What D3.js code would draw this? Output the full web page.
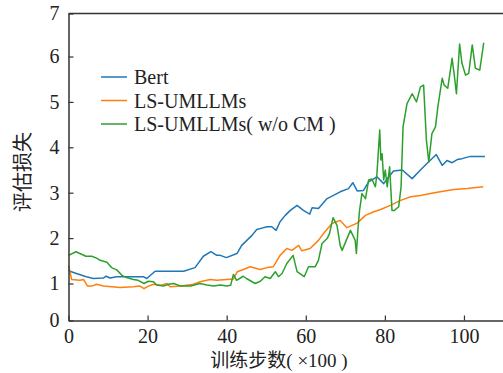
<!DOCTYPE html>
<html>
<head>
<meta charset="utf-8">
<script src="https://cdn.jsdelivr.net/npm/d3@7"></script>
<style>
  body { margin: 0; background: #fff; }
  svg text { font-family: "Liberation Serif", "Times New Roman", "DejaVu Serif", "Noto Sans CJK SC", serif; fill: #222; }
</style>
</head>
<body>
<div id="chart"></div>
<script>
// values
var bertSteps = [0, 2, 4.5, 6.3, 8.8, 9.5, 10.5, 12.2, 15, 18.9, 19.8, 21.9, 25, 29.1, 32, 34.1, 36, 37.5, 38.4, 39.9, 42.6, 43.8, 45.1, 46.4, 47.6, 48.9, 50.2, 51.4, 52.5, 53.5, 54.8, 56.1, 57.8, 59.4, 61, 61.6, 63.2, 65.4, 67, 68.7, 70.8, 71.9, 73, 74.6, 75.9, 78, 79.7, 81, 82.2, 84.4, 86.9, 89, 91.1, 93, 94.5, 95.7, 97, 98.3, 99.5, 101.6, 103.3, 105.3];
var bertLoss = [1.28, 1.22, 1.15, 1.11, 1.12, 1.16, 1.12, 1.15, 1.15, 1.15, 1.11, 1.27, 1.27, 1.27, 1.35, 1.6, 1.70, 1.62, 1.62, 1.57, 1.66, 1.84, 1.95, 2.06, 2.19, 2.22, 2.25, 2.25, 2.17, 2.36, 2.5, 2.61, 2.72, 2.61, 2.53, 2.67, 2.65, 2.87, 2.94, 3.02, 3.09, 3.22, 3.04, 3.05, 3.24, 3.35, 3.2, 3.35, 3.48, 3.5, 3.31, 3.5, 3.68, 3.84, 3.6, 3.71, 3.66, 3.73, 3.75, 3.8, 3.8, 3.8];

var lsSteps = [0, 0.8, 2.9, 3.8, 4.8, 5.9, 7.1, 8.8, 13, 16.4, 18.1, 19.1, 20.2, 21.5, 23.2, 24.9, 25.7, 28.4, 31.6, 33.3, 35.8, 37.5, 40, 41.7, 42.7, 44.2, 45.9, 48.5, 50.2, 51.8, 53.5, 55.2, 56.5, 58.2, 59, 61.1, 63.2, 64.5, 66.6, 68.7, 70.4, 71.7, 73, 75.1, 77.2, 78.9, 81.4, 84, 86.5, 89, 91.5, 94, 97.4, 100.8, 104.9];
var lsLoss = [1.4, 1.09, 1.07, 1.09, 0.93, 0.93, 0.98, 0.93, 0.89, 0.91, 0.93, 0.86, 0.93, 0.98, 0.95, 1.0, 0.91, 0.93, 0.98, 1.04, 1.09, 1.07, 1.09, 1.1, 1.26, 1.31, 1.37, 1.31, 1.35, 1.37, 1.62, 1.77, 1.73, 1.84, 1.72, 1.77, 1.95, 2.1, 2.32, 2.39, 2.23, 2.28, 2.33, 2.5, 2.58, 2.63, 2.72, 2.83, 2.91, 2.94, 2.98, 3.02, 3.07, 3.09, 3.13];

var noCmSteps = [0, 1.9, 4.4, 5.9, 7.1, 8, 9.7, 10.9, 12.2, 13.5, 14.7, 16.4, 17.6, 19.1, 20.2, 21.5, 22.3, 24, 25.3, 26.6, 28.4, 30.9, 32.5, 33.3, 35, 36.7, 38.4, 40, 41, 41.7, 42.5, 44.2, 45, 47.2, 48.5, 49.7, 51, 52.3, 53.1, 54, 55.2, 56.8, 57.8, 59.6, 60.7, 62.4, 63.2, 64.1, 65.4, 66, 66.9, 67.9, 68.7, 69.2, 70, 71.3, 72.5, 72.8, 73.2, 73.6, 74.2, 75.1, 75.9, 76.7, 77.6, 78, 78.7, 79, 79.3, 79.7, 80.1, 80.6, 81.2, 81.8, 82.4, 83.5, 84.1, 84.6, 85.6, 86.9, 88, 89, 89.8, 90.5, 91.1, 91.9, 92.8, 93.4, 94.5, 95, 95.9, 97, 97.5, 98.1, 98.9, 99.5, 100.4, 101.2, 102.1, 102.9, 104, 105];
var noCmLoss = [1.62, 1.70, 1.6, 1.6, 1.56, 1.51, 1.47, 1.35, 1.3, 1.18, 1.13, 1.09, 1.07, 1.0, 1.05, 1.04, 0.96, 0.93, 0.98, 1.0, 0.93, 0.93, 0.98, 1.0, 0.96, 0.93, 0.96, 0.93, 0.95, 1.2, 1.07, 1.16, 1.11, 1.0, 1.05, 1.15, 1.11, 1.26, 1.15, 1.22, 1.44, 1.62, 1.26, 1.15, 1.37, 1.37, 1.51, 1.88, 1.99, 2.1, 2.45, 2.28, 1.84, 1.73, 1.9, 2.17, 1.95, 1.66, 2.2, 2.61, 2.98, 2.87, 3.28, 3.3, 3.13, 3.42, 4.38, 3.72, 3.86, 3.28, 3.5, 3.13, 3.57, 2.61, 2.61, 2.69, 3.13, 4.45, 4.96, 5.18, 5.0, 5.33, 5.37, 4.16, 3.68, 4.30, 4.45, 4.89, 5.52, 5.37, 5.3, 5.96, 5.63, 5.18, 6.29, 5.85, 5.59, 5.63, 6.27, 5.74, 5.7, 6.32];

var seriesNames = ["Bert", "LS-UMLLMs", "LS-UMLLMs( w/o CM )"];
var seriesColors = ["#1f77b4", "#ff7f0e", "#2ca02c"];
var xTicks = [0, 20, 40, 60, 80, 100];
var yTicks = [0, 1, 2, 3, 4, 5, 6, 7];

var W = 503, H = 373;
var plotLeft = 68.5, plotTop = 13.5, plotBottom = 320.5, plotRight = 503.5;
var serif = "'Liberation Serif', 'Times New Roman', 'DejaVu Serif', 'Noto Sans CJK SC', serif";

var svg = d3.select("#chart").append("svg")
    .attr("width", W)
    .attr("height", H);

var x = d3.scaleLinear().domain([0, 110]).range([plotLeft, plotRight]);
// the printed axis is slightly uneven below 1, so use a piecewise scale
var y = d3.scaleLinear().domain([0, 1, 6, 7]).range([plotBottom, 283.5, 56.5, plotTop]);

var series = [
    {steps: bertSteps, loss: bertLoss},
    {steps: lsSteps, loss: lsLoss},
    {steps: noCmSteps, loss: noCmLoss}
];

var line = d3.line()
    .x(function(d){ return x(d[0]); })
    .y(function(d){ return y(d[1]); });

series.forEach(function(s, i){
    svg.append("path")
        .datum(d3.zip(s.steps, s.loss))
        .attr("d", line)
        .attr("fill", "none")
        .attr("stroke", seriesColors[i])
        .attr("stroke-width", 1.5)
        .attr("stroke-linejoin", "round");
});

// axes, ticks point inward
var xAxis = svg.append("g")
    .attr("transform", "translate(0," + plotBottom + ")")
    .call(d3.axisBottom(x).tickValues(xTicks).tickFormat(d3.format("d"))
        .tickSizeInner(-5).tickSizeOuter(0).tickPadding(8));
var yAxis = svg.append("g")
    .attr("transform", "translate(" + plotLeft + ",0)")
    .call(d3.axisLeft(y).tickValues(yTicks).tickFormat(d3.format("d"))
        .tickSizeInner(-5).tickSizeOuter(0).tickPadding(9));

[xAxis, yAxis].forEach(function(g){
    g.attr("font-family", null).attr("font-size", null);
    g.select(".domain").attr("stroke", "#333").attr("stroke-width", 1.5);
    g.selectAll(".tick line").attr("stroke", "#333").attr("stroke-width", 1.2);
    g.selectAll(".tick text")
        .attr("font-family", serif)
        .attr("font-size", 20)
        .attr("fill", "#222");
});
xAxis.selectAll(".tick text").attr("dy", "0.72em");

svg.append("line")
    .attr("x1", plotLeft).attr("x2", plotRight)
    .attr("y1", plotTop).attr("y2", plotTop)
    .attr("stroke", "#333").attr("stroke-width", 1.5);

// legend
var legend = svg.append("g");
seriesNames.forEach(function(name, i){
    var ly = 77 + i * 23.5;
    legend.append("line")
        .attr("x1", 101).attr("x2", 127)
        .attr("y1", ly).attr("y2", ly)
        .attr("stroke", seriesColors[i])
        .attr("stroke-width", 1.5);
    legend.append("text")
        .attr("x", 134).attr("y", ly)
        .attr("dy", "0.35em")
        .attr("font-family", serif)
        .attr("font-size", 20)
        .text(name);
});

// axis titles
svg.append("text")
    .attr("x", 279).attr("y", 367)
    .attr("text-anchor", "middle")
    .attr("font-family", serif)
    .attr("font-size", 19)
    .text("训练步数( ×100 )");

svg.append("text")
    .attr("transform", "translate(30,172) rotate(-90)")
    .attr("text-anchor", "middle")
    .attr("font-family", serif)
    .attr("font-size", 20)
    .text("评估损失");
</script>
</body>
</html>
